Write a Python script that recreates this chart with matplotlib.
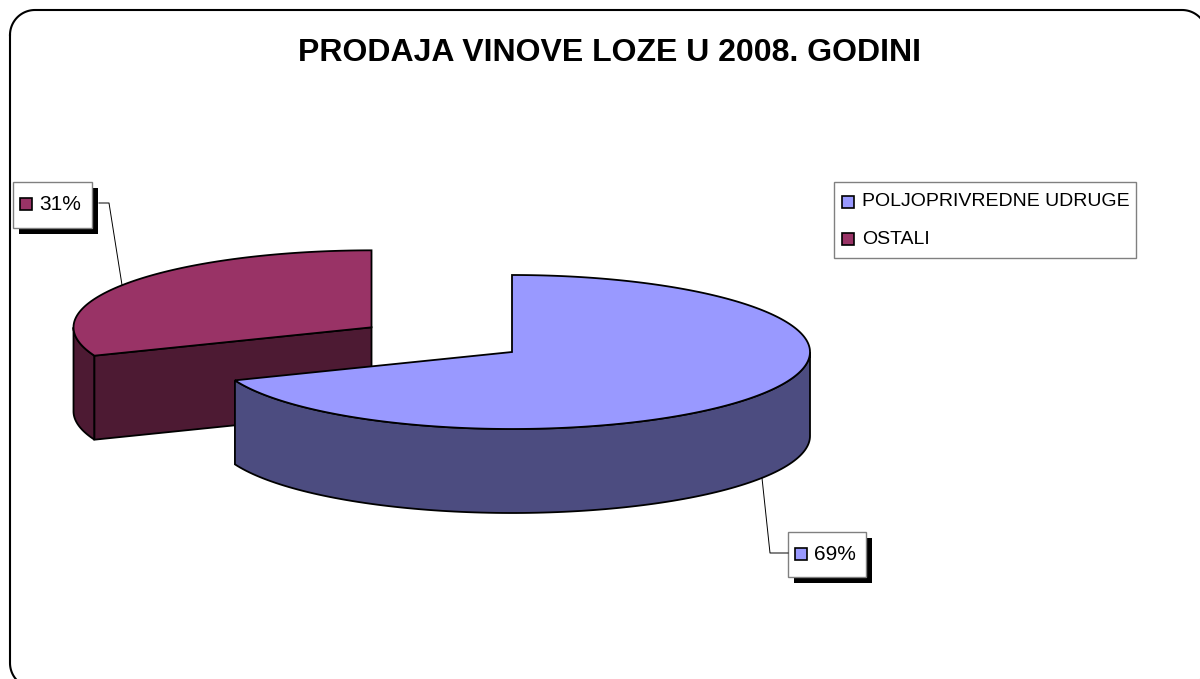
import numpy as np
import matplotlib
matplotlib.use("Agg")
import matplotlib.pyplot as plt
from matplotlib.patches import Polygon, Rectangle

# data
labels = ["POLJOPRIVREDNE UDRUGE", "OSTALI"]
shares = [69, 31]
top_colors = ["#9999FF", "#993366"]
side_colors = ["#4C4C80", "#4D1A33"]
title = "PRODAJA VINOVE LOZE U 2008. GODINI"

W, H = 1200, 679
fig = plt.figure(figsize=(W / 100, H / 100), dpi=100)
ax = fig.add_axes([0, 0, 1, 1])
ax.set_xlim(0, W)
ax.set_ylim(H, 0)
ax.axis("off")

plt.rcParams["font.family"] = ["Liberation Sans", "DejaVu Sans"]

# pie geometry (pixel space)
cx, cy = 512, 352
a, b = 298, 77
depth = 84
explode = [0.0, 0.57]
start = 90.0
lw = 1.3


def rim(x0, y0, t, dy=0):
    t = np.radians(t)
    return x0 + a * np.cos(t), y0 - b * np.sin(t) + dy


# slice angles, clockwise from the top
total = float(sum(shares))
spans = []
ang = start
for v in shares:
    sweep = 360.0 * v / total
    spans.append((ang - sweep, ang))
    ang -= sweep

order = [1, 0]  # back slice first
for i in order:
    t0, t1 = spans[i]
    mid = np.radians((t0 + t1) / 2)
    ox = cx + explode[i] * a * np.cos(mid)
    oy = cy - explode[i] * b * np.sin(mid)

    # visible outer side (front half: 180..360)
    tt0, tt1 = t0, t1
    if tt0 < 0:
        tt0 += 360
        tt1 += 360
    s0, s1 = max(tt0, 180), min(tt1, 360)
    if s1 > s0:
        th = np.linspace(s0, s1, 120)
        xt, yt = rim(ox, oy, th)
        xb, yb = rim(ox, oy, th, depth)
        pts = np.column_stack([np.r_[xt, xb[::-1]], np.r_[yt, yb[::-1]]])
        ax.add_patch(Polygon(pts, closed=True, fc=side_colors[i], ec="black", lw=lw))

    # cut faces that turn towards the viewer
    e = t1 % 360
    if 180 < e < 270:
        xr, yr = rim(ox, oy, e)
        pts = [(ox, oy), (xr, yr), (xr, yr + depth), (ox, oy + depth)]
        ax.add_patch(Polygon(pts, closed=True, fc=side_colors[i], ec="black", lw=lw))
    e = t0 % 360
    if 270 < e < 360:
        xr, yr = rim(ox, oy, e)
        pts = [(ox, oy), (xr, yr), (xr, yr + depth), (ox, oy + depth)]
        ax.add_patch(Polygon(pts, closed=True, fc=side_colors[i], ec="black", lw=lw))

    # top face
    th = np.linspace(t0, t1, 240)
    xt, yt = rim(ox, oy, th)
    pts = np.column_stack([np.r_[ox, xt], np.r_[oy, yt]])
    ax.add_patch(Polygon(pts, closed=True, fc=top_colors[i], ec="black", lw=lw))

# data labels with shadowed boxes and leader lines
lab_boxes = {0: (788, 532, 78, 45), 1: (13, 182, 79, 46)}
leaders = {0: [(788, 553), (770, 553), (762, 478)],
           1: [(99, 203), (109, 203), (122, 285)]}
for i, v in enumerate(shares):
    x, y, w, h = lab_boxes[i]
    ax.add_patch(Rectangle((x + 6, y + 6), w, h, fc="black", ec="none"))
    ax.add_patch(Rectangle((x, y), w, h, fc="white", ec="#808080", lw=1))
    ax.add_patch(Rectangle((x + 7, y + 16), 12, 12, fc=top_colors[i], ec="black", lw=1.2))
    ax.text(x + 26, y + 22, f"{v}%", fontsize=15, va="center", ha="left")
    lx, ly = zip(*leaders[i])
    ax.plot(lx, ly, color="black", lw=0.7)

# legend
ax.add_patch(Rectangle((834, 182), 302, 76, fc="white", ec="#808080", lw=1))
for k, (lab, col) in enumerate(zip(labels, top_colors)):
    yy = 202 + k * 37
    ax.add_patch(Rectangle((842, yy - 6), 12, 12, fc=col, ec="black", lw=1.2))
    ax.text(862, yy, lab, fontsize=14, va="center", ha="left")

ax.text(610, 53, title, fontsize=23, fontweight="bold", ha="center", va="center")

# rounded chart frame (right and bottom edges fall outside the picture)
x0, y0, x1, y1, r = 10, 10, 1207, 688, 25
segs = []
for (ccx, ccy, a0, a1) in [(x0 + r, y0 + r, 180, 270), (x1 - r, y0 + r, 270, 360),
                           (x1 - r, y1 - r, 0, 90), (x0 + r, y1 - r, 90, 180)]:
    t = np.radians(np.linspace(a0, a1, 30))
    segs.append(np.column_stack([ccx + r * np.cos(t), ccy + r * np.sin(t)]))
frame = np.vstack(segs + [segs[0][:1]])
ax.plot(frame[:, 0], frame[:, 1], color="black", lw=1.5, clip_on=False)

fig.savefig("out.png", dpi=100)
